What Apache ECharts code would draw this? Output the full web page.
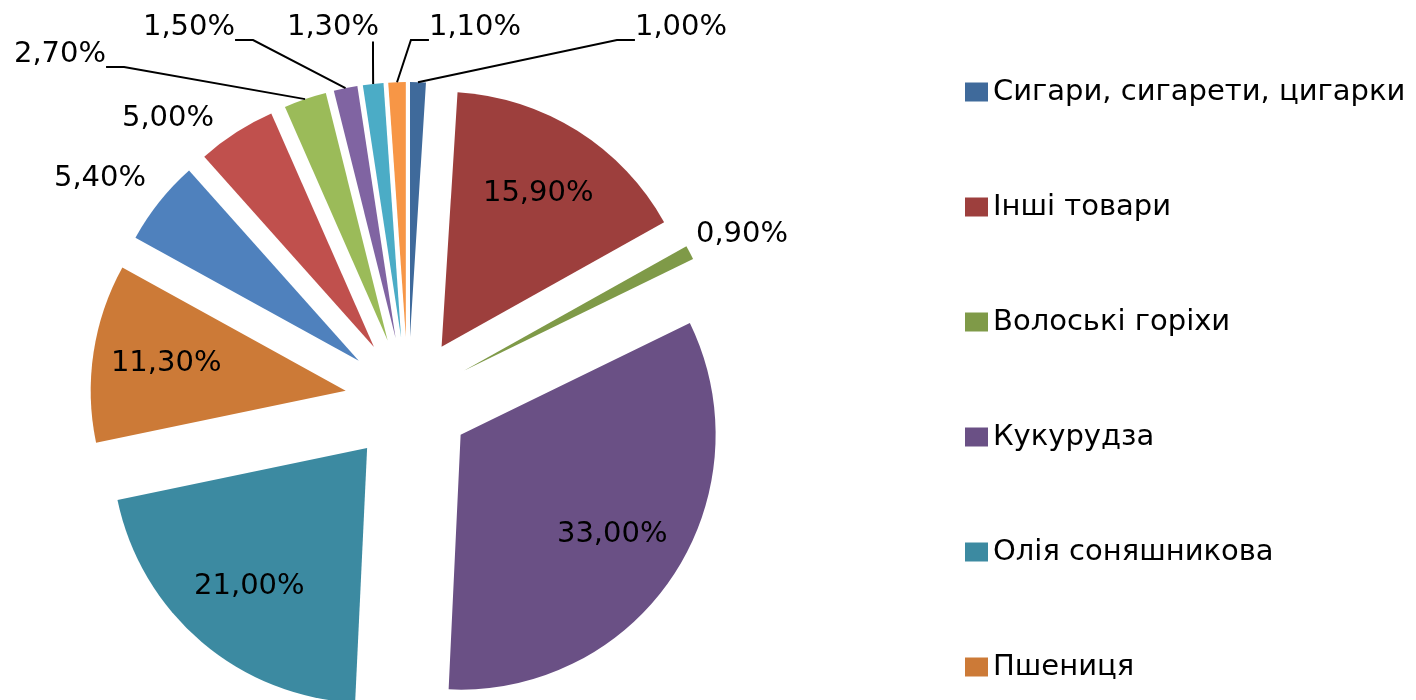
<!DOCTYPE html>
<html><head><meta charset="utf-8">
<script src="https://cdn.jsdelivr.net/npm/echarts@6/dist/echarts.min.js"></script>
<style>html,body{margin:0;padding:0;background:#fff}#c{width:1416px;height:700px}</style>
</head><body><div id="c"></div>
<script>
// Categories (only the first six are readable in the reference legend)
const categories = ['Сигари, сигарети, цигарки', 'Інші товари', 'Волоські горіхи', 'Кукурудза', 'Олія соняшникова', 'Пшениця', '', '', '', '', '', ''];
// Shares, %
const values = [1.0, 15.9, 0.9, 33.0, 21.0, 11.3, 5.4, 5.0, 2.7, 1.5, 1.3, 1.1];
const legendNames = categories.slice(0, 6);

// styling / layout
const colors = ['#3F6A9B', '#9D3F3D', '#7F9A48', '#6A5085', '#3C8AA1', '#CC7A37', '#4F81BD', '#C0504D', '#9BBB59', '#8064A2', '#4BACC6', '#F79646'];
const insideLabel = [false, true, false, true, true, true, false, false, false, false, false, false];
const leaderLine = [true, false, false, false, false, false, false, false, true, true, true, true];
// leader lines meet these labels at the text baseline (label box gets an empty second line)
const baselineAttach = [true, false, false, false, false, false, false, false, true, true, false, true];
// label anchor spots (centre of the label box)
const outsideSpots = {0: [681, 40], 2: [742, 234], 6: [100, 178], 7: [168, 118], 8: [60, 67], 9: [189, 40], 10: [373, 27], 11: [475, 40]};
const labelPads = {10: [0, 80, 0, 0]};
const FONT = 'DejaVu Sans';
const pct = v => v.toFixed(2).replace('.', ',') + '%';
const R = 255, OFFSET = 63;

const chart = echarts.init(document.getElementById('c'), null, {renderer: 'canvas'});
const common = {
  type: 'pie', center: [408, 400], startAngle: 90, clockwise: true,
  avoidLabelOverlap: false, animation: false, emphasis: {disabled: true}
};
const transparent = {color: 'rgba(0,0,0,0)'};
chart.setOption({
  animation: false,
  backgroundColor: '#fff',
  legend: {
    data: legendNames, orient: 'vertical', left: 965, top: 77, icon: 'rect',
    itemWidth: 23, itemHeight: 19, itemGap: 85, padding: 0, selectedMode: false,
    textStyle: {fontFamily: FONT, fontSize: 29, color: '#000', lineHeight: 30}
  },
  series: [
    // exploded slices
    Object.assign({}, common, {
      name: 'slices', radius: [0, R], selectedMode: 'multiple', selectedOffset: OFFSET,
      data: values.map((v, i) => ({name: categories[i], value: v, selected: true, itemStyle: {color: colors[i]}})),
      label: {show: false}, labelLine: {show: false}
    }),
    // labels inside the large slices
    Object.assign({}, common, {
      name: 'inner-labels', radius: [102, R], silent: true, z: 3,
      selectedMode: 'multiple', selectedOffset: OFFSET,
      data: values.map((v, i) => ({name: categories[i], value: v, selected: true, itemStyle: transparent, label: {show: insideLabel[i]}})),
      label: {position: 'inside', formatter: p => pct(p.value), fontFamily: FONT, fontSize: 29, color: '#000'},
      labelLine: {show: false}
    }),
    // labels outside the small slices (ring at the exploded outer edge)
    Object.assign({}, common, {
      name: 'outer-labels', radius: [0, R + OFFSET], silent: true, z: 3,
      data: values.map((v, i) => ({name: categories[i], value: v, itemStyle: transparent,
        label: Object.assign({show: !insideLabel[i]},
          labelPads[i] ? {padding: labelPads[i], backgroundColor: 'rgba(255,255,255,0)'} : {},
          baselineAttach[i] ? {lineHeight: 26} : {}),
        labelLine: {show: leaderLine[i]}})),
      label: {
        position: 'outside', fontFamily: FONT, fontSize: 29, color: '#000',
        formatter: p => pct(p.value) + (baselineAttach[p.dataIndex] ? '\n ' : '')
      },
      labelLine: {length: 8, length2: 18, smooth: false, lineStyle: {color: '#000', width: 2}},
      labelLayout: function (p) {
        const s = outsideSpots[p.dataIndex];
        if (!s) return {};
        return {x: s[0], y: s[1], align: 'center', verticalAlign: 'middle'};
      }
    })
  ]
});
</script></body></html>
